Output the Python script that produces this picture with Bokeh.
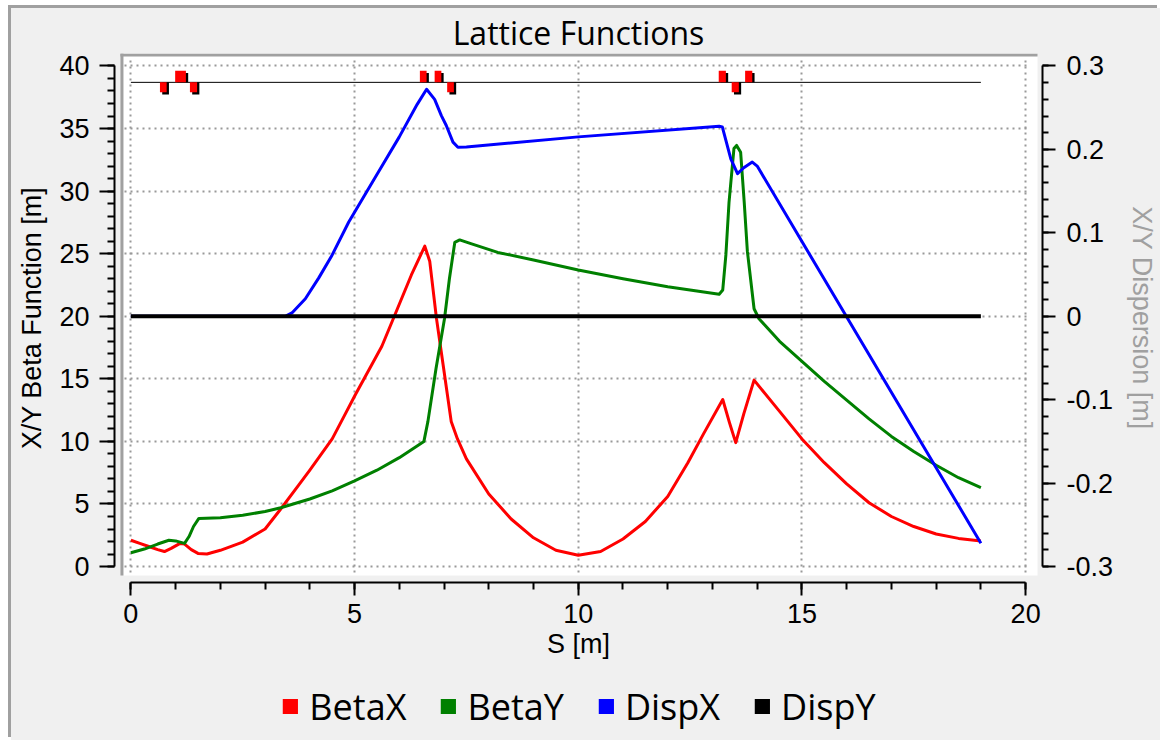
import numpy as np
from bokeh.plotting import figure
from bokeh.layouts import column
from bokeh.models import (Range1d, LinearAxis, SingleIntervalTicker, BoxAnnotation,
                          Legend, LegendItem, CustomJSTickFormatter)
from bokeh.embed import file_html
from bokeh.resources import INLINE

# ---------------- data ----------------
series_names = ["BetaX", "BetaY", "DispX", "DispY"]
series_colors = ["#ff0000", "#008000", "#0000ff", "#000000"]

betax_s = [0.0, 0.2, 0.4, 0.6, 0.75, 0.9, 1.1, 1.2, 1.35, 1.5, 1.7, 2.0, 2.5, 3.0,
           3.35, 3.75, 4.0, 4.5, 4.72, 5.02, 5.61, 5.9, 6.27, 6.57, 6.68, 6.83, 6.98,
           7.16, 7.3, 7.5, 8.0, 8.5, 9.0, 9.5, 10.0, 10.5, 11.0, 11.5, 12.0, 12.45,
           12.8, 13.23, 13.38, 13.52, 13.7, 13.93, 14.5, 15.0, 15.5, 16.0, 16.5, 17.0,
           17.5, 18.0, 18.5, 19.0]
betax = [2.1, 1.85, 1.6, 1.35, 1.2, 1.45, 1.85, 1.8, 1.35, 1.05, 1.0, 1.3, 1.95, 3.0,
         4.6, 6.5, 7.7, 10.2, 11.7, 13.75, 17.6, 20.1, 23.3, 25.6, 24.4, 19.85, 16.1,
         11.6, 10.2, 8.6, 5.8, 3.8, 2.3, 1.3, 0.9, 1.2, 2.2, 3.6, 5.6, 8.3,
         10.6, 13.35, 11.5, 9.9, 12.2, 14.9, 12.4, 10.2, 8.3, 6.6, 5.1, 4.0,
         3.2, 2.6, 2.25, 2.05]

betay_s = [0.0, 0.3, 0.6, 0.85, 1.0, 1.2, 1.3, 1.4, 1.52, 2.0, 2.5, 3.0, 3.35, 4.0,
           4.5, 5.0, 5.5, 6.0, 6.55, 6.64, 6.82, 7.01, 7.12, 7.24, 7.35, 7.6, 8.2,
           9.0, 10.0, 11.0, 12.0, 13.15, 13.23, 13.30, 13.37, 13.48, 13.54, 13.63,
           13.71, 13.78, 13.93, 14.04, 14.5, 15.0, 15.5, 16.0, 16.5, 17.0, 17.5,
           18.0, 18.5, 19.0]
betay = [1.1, 1.4, 1.8, 2.1, 2.05, 1.85, 2.4, 3.2, 3.85, 3.9, 4.1, 4.4, 4.7, 5.4,
         6.05, 6.85, 7.7, 8.7, 10.0, 11.6, 15.8, 19.8, 23.0, 25.9, 26.1, 25.8, 25.1,
         24.5, 23.7, 23.0, 22.35, 21.76, 22.1, 24.9, 29.1, 33.4, 33.65, 33.1,
         29.1, 25.2, 20.6, 19.8, 18.0, 16.4, 14.8, 13.3, 11.8, 10.4, 9.2,
         8.1, 7.1, 6.3]

dispx_s = [0.0, 3.45, 3.6, 3.9, 4.2, 4.5, 4.87, 5.5, 6.0, 6.4, 6.61, 6.79, 6.94,
           7.05, 7.2, 7.31, 7.5, 10.0, 13.15, 13.22, 13.41, 13.56, 13.7, 13.89,
           14.0, 19.0]
dispx = [0.0, 0.0, 0.004, 0.021, 0.046, 0.0735, 0.113, 0.17, 0.215, 0.254, 0.272,
         0.260, 0.2405, 0.2286, 0.2087, 0.2026, 0.203, 0.215, 0.2277, 0.227, 0.1887,
         0.171, 0.178, 0.1848, 0.18, -0.272]

dispy_s = [0.0, 19.0]
dispy = [0.0, 0.0]

# lattice sketch (quadrupoles): start, end, +1 focusing (above) / -1 (below)
lattice_length = 19.0
mag_start = [0.65, 0.99, 1.32, 6.46, 6.79, 7.07, 13.14, 13.43, 13.73]
mag_end = [0.80, 1.23, 1.48, 6.61, 6.94, 7.22, 13.30, 13.59, 13.89]
mag_side = [-1, 1, -1, 1, 1, -1, 1, -1, 1]

s_limits = [0, 20]
beta_limits = [0, 40]
disp_limits = [-0.3, 0.3]
s_tick_step = 5
beta_tick_step = 5
disp_tick_step = 0.1

# ---------------- layout ----------------
OFF_X, OFF_Y = 11, 8            # page offset of the canvas
W = 1160 - OFF_X
LEG_TOP = 672                   # page y where the legend strip starts
H = LEG_TOP - OFF_Y
H_LEG = 740 - LEG_TOP
FRAME_L, FRAME_R, FRAME_T, FRAME_B = 114, 1049, 51, 582   # page pixels
B_LEFT = FRAME_L - OFF_X
B_RIGHT = 1160 - FRAME_R
B_TOP = FRAME_T - OFF_Y
B_BOTTOM = LEG_TOP - FRAME_B
FRAME_W = FRAME_R - FRAME_L
FRAME_H = FRAME_B - FRAME_T
SX = 45.075      # px per metre
SY = 12.5625     # px per beta unit
X0 = -16.5 / SX
X1 = X0 + FRAME_W / SX
Y0 = -16.0 / SY
Y1 = Y0 + FRAME_H / SY
D_PER_B = (disp_limits[1] - disp_limits[0]) / (beta_limits[1] - beta_limits[0])
D0 = disp_limits[0] + (Y0 - beta_limits[0]) * D_PER_B
D1 = disp_limits[0] + (Y1 - beta_limits[0]) * D_PER_B


def dx(px):
    return px / SX


def dy(px):
    return px / SY


BG = "#f0f0f0"
AXIS_FONT = "Liberation Sans"

p = figure(width=W, height=H,
           min_border_left=B_LEFT, min_border_right=B_RIGHT,
           min_border_top=B_TOP, min_border_bottom=B_BOTTOM,
           x_range=Range1d(X0, X1), y_range=Range1d(Y0, Y1),
           output_backend="svg", toolbar_location=None,
           background_fill_color=BG, border_fill_color=BG)
p.outline_line_color = None
p.extra_y_ranges = {"disp": Range1d(D0, D1)}

p.title.text = "Lattice Functions"
p.title.align = "center"
p.title.text_font = "Open Sans"
p.title.text_font_size = "32px"
p.title.text_font_style = "normal"
p.title.text_color = "#000000"
p.title.standoff = 0

# white plotting area with sunken grey edges
p.add_layout(BoxAnnotation(left=X0 + dx(9), right=X1 - dx(5), top=Y1, bottom=Y0 + dy(7),
                           fill_color="white", fill_alpha=1, line_color=None, level="image"))
p.add_layout(BoxAnnotation(left=X0 + dx(6), right=X0 + dx(9), top=Y1, bottom=Y0 + dy(7),
                           fill_color="#a0a0a0", fill_alpha=1, line_color=None, level="image"))
p.add_layout(BoxAnnotation(left=X0 + dx(6), right=X1 - dx(5), top=Y1, bottom=Y1 - dy(3),
                           fill_color="#a0a0a0", fill_alpha=1, line_color=None, level="image"))

# axes
xax = p.xaxis[0]
xax.ticker = SingleIntervalTicker(interval=s_tick_step, num_minor_ticks=5)
xax.bounds = tuple(s_limits)
xax.axis_label = "S [m]"

yax = p.yaxis[0]
yax.ticker = SingleIntervalTicker(interval=beta_tick_step, num_minor_ticks=5)
yax.bounds = tuple(beta_limits)
yax.axis_label = "X/Y Beta Function [m]"

rax = LinearAxis(y_range_name="disp", axis_label="X/Y Dispersion [m]")
rax.ticker = SingleIntervalTicker(interval=disp_tick_step, num_minor_ticks=5)
rax.bounds = (disp_limits[0] - 0.0005, disp_limits[1] + 0.0005)
rax.formatter = CustomJSTickFormatter(code="return Math.abs(tick) < 1e-9 ? '0' : tick.toFixed(1);")
p.add_layout(rax, "right")

for ax in (xax, yax, rax):
    ax.axis_line_width = 2
    ax.axis_line_color = "#000000"
    ax.major_tick_line_width = 2
    ax.minor_tick_line_width = 2
    ax.major_tick_line_color = "#000000"
    ax.minor_tick_line_color = "#000000"
    ax.major_tick_in = 0
    ax.minor_tick_in = 0
    ax.minor_tick_out = 7
    ax.major_label_text_font = AXIS_FONT
    ax.major_label_text_font_size = "27px"
    ax.major_label_text_color = "#000000"
    ax.axis_label_text_font = AXIS_FONT
    ax.axis_label_text_font_size = "27px"
    ax.axis_label_text_font_style = "normal"
    ax.axis_label_text_color = "#000000"

xax.major_tick_out = 13
xax.major_label_standoff = 8
xax.axis_label_standoff = 3
yax.major_tick_out = 15
yax.major_label_standoff = 10
yax.axis_label_standoff = 9
rax.major_tick_out = 13
rax.minor_tick_out = 6
rax.major_label_standoff = 11
rax.axis_label_standoff = 11
rax.axis_label_text_color = "#a0a0a0"

# dotted grid
for g in (p.xgrid[0], p.ygrid[0]):
    g.grid_line_color = "#999999"
    g.grid_line_width = 2
    g.grid_line_dash = "2 4"
p.xgrid[0].ticker = xax.ticker
p.ygrid[0].ticker = yax.ticker
try:
    p.xgrid[0].cross_bounds = (Y0 + dy(10), Y1 - dy(3))
    p.ygrid[0].cross_bounds = (X0 + dx(10), X1 - dx(12))
except Exception:
    pass

# lattice sketch
lat_y = 38.69
p.segment(x0=[0.0], y0=[lat_y], x1=[lattice_length], y1=[lat_y],
          line_color="#000000", line_width=1)
ms = np.array(mag_start)
me = np.array(mag_end)
side = np.array(mag_side)
h_up, h_dn = dy(11.7), dy(10)
red_top = np.where(side > 0, lat_y + h_up, lat_y)
red_bot = np.where(side > 0, lat_y, lat_y - h_dn)
sh_top = np.where(side > 0, red_top - dy(2.3), lat_y)
sh_bot = np.where(side > 0, lat_y, red_bot - dy(2.3))
p.quad(left=ms + dx(2.3), right=me + dx(2.3), top=sh_top, bottom=sh_bot,
       fill_color="#000000", line_color=None)
p.quad(left=ms, right=me, top=red_top, bottom=red_bot,
       fill_color="#ff0000", line_color=None)

# curves
p.line(betax_s, betax, line_color=series_colors[0], line_width=3, line_join="round")
p.line(betay_s, betay, line_color=series_colors[1], line_width=3, line_join="round")
p.line(dispx_s, dispx, line_color=series_colors[2], line_width=3, line_join="round",
       y_range_name="disp")
p.line(dispy_s, dispy, line_color=series_colors[3], line_width=4, y_range_name="disp")

# ---------------- legend strip (separate canvas under the chart) ----------------
pl = figure(width=W, height=H_LEG, min_border=0,
            x_range=Range1d(0, 1), y_range=Range1d(0, 1),
            x_axis_type=None, y_axis_type=None,
            output_backend="svg", toolbar_location=None,
            background_fill_color=BG, border_fill_color=BG)
pl.outline_line_color = None
pl.grid.visible = False
items = []
for name, color in zip(series_names, series_colors):
    # swatch renderer kept outside the visible range; only its legend glyph shows
    r = pl.quad(left=[2], right=[3], top=[3], bottom=[2], fill_color=color, line_color=None)
    items.append(LegendItem(label=name, renderers=[r]))
legend = Legend(items=items, orientation="horizontal", location="center",
                glyph_width=19, glyph_height=19, label_standoff=10, spacing=32,
                padding=0, margin=0, border_line_color=None,
                background_fill_alpha=0,
                label_text_font="Open Sans", label_text_font_size="36px",
                label_text_color="#000000")
pl.add_layout(legend, "center")

layout = column(p, pl, spacing=0)
layout.margin = (OFF_Y, 0, 0, OFF_X)
layout.styles = {"box-shadow": "-3px -3px 0 0 #a0a0a0", "background-color": BG}

open("out.html", "w").write(file_html(layout, INLINE, title="Lattice Functions"))
